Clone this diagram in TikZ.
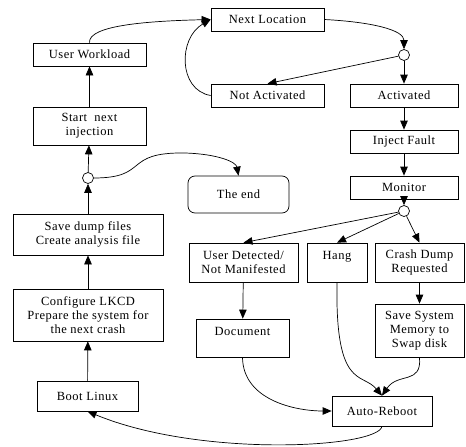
\documentclass[tikz,border=0pt]{standalone}
\usepackage{fontspec}
\setmainfont[LetterSpace=4]{Liberation Serif}
\usetikzlibrary{arrows.meta}
\tikzset{
  box/.style={draw,line width=0.7pt,align=center,inner sep=0pt,font=\fontsize{12.5}{14}\selectfont},
  dec/.style={draw,circle,line width=0.7pt,fill=white,minimum size=11pt,inner sep=0pt},
  arr/.style={line width=0.7pt,-{Triangle[length=9pt,width=7.5pt]}}
}
\begin{document}
\begin{tikzpicture}[x=1pt,y=-1pt]
        \useasboundingbox (0,0) rectangle (466,447);

        \node[box,minimum width=113pt,minimum height=23pt] (work) at (89.5,54.5) {User Workload};
        \node[box,minimum width=113pt,minimum height=38pt] (start) at (89.5,126) {Start\ \ next\\injection};
        \node[dec] (d3) at (88,178) {};
        \node[box,minimum width=150pt,minimum height=41pt] (save) at (88,234.5) {Save dump files\\ Create analysis file};
        \node[box,minimum width=150pt,minimum height=52pt] (config) at (88,315) {Configure LKCD\\Prepare the system for\\the next crash};
        \node[box,minimum width=101pt,minimum height=30pt] (boot) at (87.5,396) {Boot Linux};

        \node[box,minimum width=113pt,minimum height=23pt] (next) at (267.5,19.5) {Next Location};
        \node[box,minimum width=113pt,minimum height=23pt] (notact) at (267.5,95.5) {Not Activated};
        \node[box,rounded corners=7pt,minimum width=101pt,minimum height=37pt] (theend) at (238.5,194.5) {The end};

        \node[dec] (d1) at (404,55) {};
        \node[box,minimum width=108pt,minimum height=23pt] (act) at (404,95.5) {Activated};
        \node[box,minimum width=108pt,minimum height=23pt] (inject) at (404,141.5) {Inject Fault};
        \node[box,minimum width=108pt,minimum height=23pt] (monitor) at (404,187.5) {Monitor};
        \node[dec] (d2) at (404,211) {};

        \node[box,minimum width=109pt,minimum height=39pt] (userdet) at (243.5,262.5) {User Detected/\\Not Manifested};
        \node[box,minimum width=60pt,minimum height=39pt] (hang) at (337,262.5) {Hang\\\mbox{}};
        \node[box,minimum width=89pt,minimum height=39pt] (crash) at (419.5,262.5) {Crash Dump\\Requested};
        \node[box,minimum width=93pt,minimum height=38pt] (doc) at (242.5,338) {Document\\\mbox{}};
        \node[box,minimum width=89pt,minimum height=53pt] (savemem) at (419.5,330.5) {Save System\\Memory to\\Swap disk};
        \node[box,minimum width=100pt,minimum height=30pt] (reboot) at (382,411) {Auto-Reboot};

        \draw[arr] (boot) -- (config);
        \draw[arr] (config) -- (save);
        \draw[arr] (save) -- (d3);
        \draw[arr] (d3) -- (start);
        \draw[arr] (start) -- (work);
        \draw[arr] (work.north) .. controls (88,25) and (150,21) .. (next.west);
        \draw[arr] (notact.west) .. controls (178,90) and (178,38) .. (next.west);
        \draw[arr] (next.east) .. controls (372,22) and (404,30) .. (d1.north);
        \draw[arr] (d1) -- (notact.north);
        \draw[arr] (d1) -- (act);
        \draw[arr] (act) -- (inject);
        \draw[arr] (inject) -- (monitor);
        \draw[arr] (monitor) -- (d2);
        \draw[arr] (d2) -- (userdet.north);
        \draw[arr] (d2) -- (hang.north);
        \draw[arr] (d2) -- (crash.north);
        \draw[arr] (userdet) -- (doc);
        \draw[arr] (crash) -- (savemem);
        \draw[arr] (hang.south) .. controls (335,390) and (362,372) .. (reboot.north);
        \draw[arr] (savemem.south) .. controls (422,385) and (398,372) .. (reboot.north);
        \draw[arr] (doc.south) .. controls (243,400) and (295,411) .. (reboot.west);
        \draw[arr] (reboot.south) .. controls (378,448) and (200,458) .. (boot.south);
        \draw[arr] (d3.east) .. controls (150,178) and (122,152) .. (185,153) .. controls (218,154) and (236,162) .. (theend.north);
\end{tikzpicture}
\end{document}
